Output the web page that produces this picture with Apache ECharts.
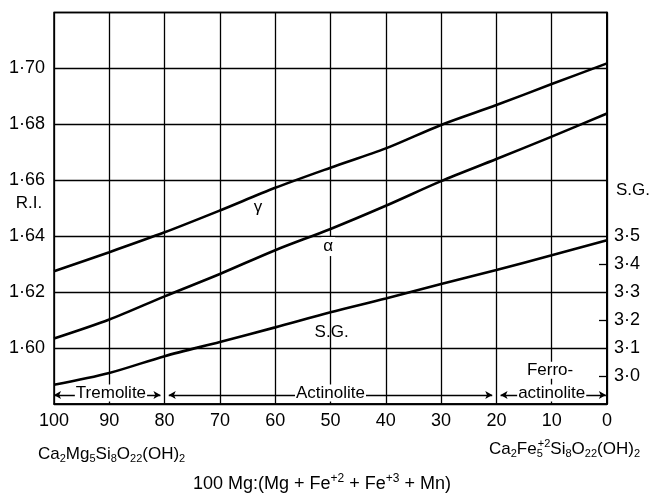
<!DOCTYPE html>
<html>
<head>
<meta charset="utf-8">
<script src="https://cdn.jsdelivr.net/npm/echarts@6/dist/echarts.min.js"></script>
<style>html,body{margin:0;padding:0;background:#fff}#c{width:652px;height:493px}</style>
</head>
<body>
<div id="c"></div>
<script>
// composition axis: 100 Mg/(Mg+Fe2+Fe3+Mn)
var xValues = [100, 90, 80, 70, 60, 50, 40, 30, 20, 10, 0];
// refractive index gamma
var gammaRI = [1.6275, 1.6343, 1.6414, 1.6492, 1.6573, 1.6645, 1.6714, 1.6798, 1.6869, 1.6944, 1.7018];
// refractive index alpha
var alphaRI = [1.6034, 1.6102, 1.6185, 1.6265, 1.6350, 1.6426, 1.6509, 1.6597, 1.6676, 1.6756, 1.6839];
// specific gravity
var sgValues = [2.969, 3.011, 3.071, 3.122, 3.174, 3.228, 3.277, 3.329, 3.379, 3.432, 3.486];
// tick labels
var xTicks = [0, 10, 20, 30, 40, 50, 60, 70, 80, 90, 100];
var riTicks = [1.60, 1.62, 1.64, 1.66, 1.68, 1.70];
var sgTicks = [3.0, 3.1, 3.2, 3.3, 3.4, 3.5];
var sgMinorTicks = [3.0, 3.2, 3.4];
// mineral ranges (composition boundaries)
var ranges = [[100, 80], [80, 20], [20, 0]];
var rangeNames = ['Tremolite', 'Actinolite', 'actinolite'];

var FONT = "'Liberation Sans', Arial, Helvetica, sans-serif";
function pairs(ys) { return xValues.map(function (x, i) { return [x, ys[i]]; }); }

var chart = echarts.init(document.getElementById('c'), null, {renderer: 'canvas'});
var stripY = 1.5832;
var gap = 0.75;
var arrowData = ranges.map(function (r, i) {
  var a = r[0] === 100 ? r[0] : r[0] - gap;
  var b = r[1] === 0 ? r[1] + 0.2 : r[1] + gap;
  return [{coord: [a, stripY]}, {coord: [b, stripY]}];
});

var lineStyleMain = {color: '#000', width: 2.6};
var rich = {
  n: {fontSize: 17, fontFamily: FONT, color: '#000'},
  t: {fontSize: 18, fontFamily: FONT, color: '#000'},
  s: {fontSize: 11, fontFamily: FONT, color: '#000', padding: [10, 0, 0, 0]},
  u: {fontSize: 12, fontFamily: FONT, color: '#000', padding: [0, 0, 10, 0]},
  v: {fontSize: 11, fontFamily: FONT, color: '#000', padding: [0, 0, 10, -5]}
};
var lbl = {color: '#000', fontSize: 17, fontFamily: FONT, textBorderWidth: 0, opacity: 1};

chart.setOption({
  animation: false,
  textStyle: {fontFamily: FONT, color: '#000'},
  grid: {left: 54, right: 45, top: 12.5, bottom: 89, show: true, borderColor: '#000', borderWidth: 1.5, backgroundColor: 'transparent'},
  xAxis: {
    type: 'value', min: 0, max: 100, interval: 10, inverse: true,
    axisLine: {show: true, lineStyle: {color: '#000', width: 1.5}},
    axisTick: {show: false},
    splitLine: {show: true, lineStyle: {color: '#000', width: 1.3}},
    axisLabel: {color: '#000', fontSize: 18, fontFamily: FONT, margin: 8, customValues: xTicks}
  },
  yAxis: [{
    type: 'value', min: 1.58, max: 1.72, interval: 0.02,
    axisLine: {show: true, lineStyle: {color: '#000', width: 1.5}},
    axisTick: {show: false},
    splitLine: {show: true, lineStyle: {color: '#000', width: 1.3}},
    axisLabel: {color: '#000', fontSize: 18, fontFamily: FONT, margin: 9, customValues: riTicks,
      formatter: function (v) { return v.toFixed(2).replace('.', '\u00B7'); }}
  }, {
    type: 'value', min: 2.9, max: 4.3, interval: 0.1, position: 'right',
    axisLine: {show: true, lineStyle: {color: '#000', width: 1.5}},
    axisTick: {show: true, inside: true, length: 8, lineStyle: {color: '#000', width: 1.3}, customValues: sgMinorTicks},
    splitLine: {show: false},
    axisLabel: {color: '#000', fontSize: 18, fontFamily: FONT, margin: 7, customValues: sgTicks,
      formatter: function (v) { return v.toFixed(1).replace('.', '\u00B7'); }}
  }],
  series: [
    {type: 'line', name: 'gamma', data: pairs(gammaRI), smooth: 0.3, showSymbol: false, lineStyle: lineStyleMain, z: 3, silent: true},
    {type: 'line', name: 'alpha', data: pairs(alphaRI), smooth: 0.3, showSymbol: false, lineStyle: lineStyleMain, z: 3, silent: true},
    {type: 'line', name: 'SG', yAxisIndex: 1, data: pairs(sgValues), smooth: 0.3, showSymbol: false, lineStyle: lineStyleMain, z: 3, silent: true},
    {type: 'scatter', name: 'ranges', data: [], z: 4, silent: true,
      markLine: {silent: true, symbol: ['arrow', 'arrow'], symbolSize: [6, 7], label: {show: false},
        lineStyle: {color: '#000', width: 1.3, type: 'solid', opacity: 1}, emphasis: {disabled: true}, data: arrowData}},
    {type: 'scatter', name: 'labels', z: 6, silent: true, symbolSize: 1, itemStyle: {color: 'rgba(0,0,0,0)', opacity: 1},
      label: Object.assign({show: true, position: 'inside', formatter: '{b}'}, lbl),
      data: [
        {name: '\u03B3', value: [63.1, 1.6503]},
        {name: '\u03B1', value: [50.4, 1.6363], label: {backgroundColor: '#fff', padding: [1, 2]}},
        {name: 'S.G.', value: [49.8, 1.6056]},
        {name: rangeNames[0], value: [89.7, 1.5839], label: {backgroundColor: '#fff', padding: [0, 1]}},
        {name: rangeNames[1], value: [50, 1.5839], label: {backgroundColor: '#fff', padding: [0, 1]}},
        {name: 'Ferro-', value: [10.3, 1.5921], label: {backgroundColor: '#fff', padding: [0, 1]}},
        {name: rangeNames[2], value: [10, 1.5839], label: {backgroundColor: '#fff', padding: [0, 1]}}
      ]}
  ],
  graphic: [
    {type: 'text', x: 29, y: 203, silent: true, style: {text: 'R.I.', fill: '#000', font: '17px ' + FONT, textAlign: 'center', textVerticalAlign: 'middle'}},
    {type: 'text', x: 633, y: 190, silent: true, style: {text: 'S.G.', fill: '#000', font: '17px ' + FONT, textAlign: 'center', textVerticalAlign: 'middle'}},
    {type: 'text', x: 38, y: 454, silent: true, style: {
      text: '{n|Ca}{s|2}{n|Mg}{s|5}{n|Si}{s|8}{n|O}{s|22}{n|(OH)}{s|2}', rich: rich, textAlign: 'left', textVerticalAlign: 'middle'}},
    {type: 'text', x: 640, y: 449, silent: true, style: {
      text: '{n|Ca}{s|2}{n|Fe}{s|5}{v|+2}{n|Si}{s|8}{n|O}{s|22}{n|(OH)}{s|2}', rich: rich, textAlign: 'right', textVerticalAlign: 'middle'}},
    {type: 'text', x: 322, y: 484, silent: true, style: {
      text: '{t|100 Mg:(Mg + Fe}{u|+2}{t| + Fe}{u|+3}{t| + Mn)}', rich: rich, textAlign: 'center', textVerticalAlign: 'middle'}}
  ]
});
</script>
</body>
</html>
